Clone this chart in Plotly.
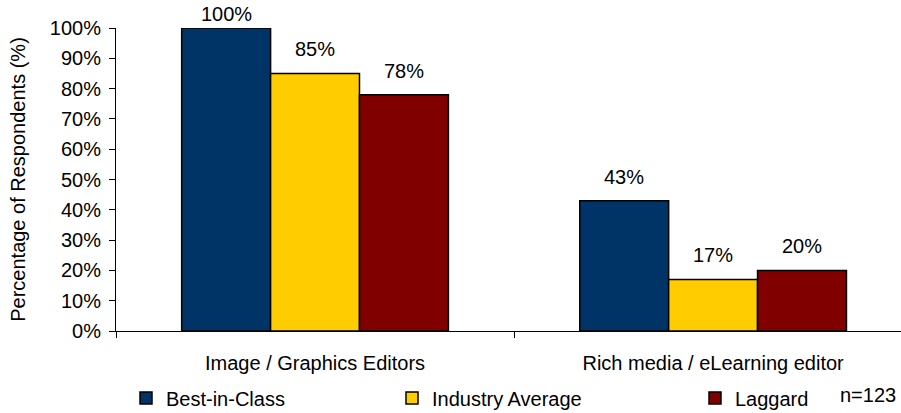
import plotly.graph_objects as go

categories = ["Image / Graphics Editors", "Rich media / eLearning editor"]
series_names = ["Best-in-Class", "Industry Average", "Laggard"]
best_in_class = [1.00, 0.43]
industry_average = [0.85, 0.17]
laggard = [0.78, 0.20]
series_values = [best_in_class, industry_average, laggard]
series_colors = ["#003366", "#FFCC00", "#800000"]
legend_ids = ["legend", "legend2", "legend3"]

FONT = "Liberation Sans, Arial, sans-serif"
FS = 20

W, H = 901, 413
L, T, B = 116, 28, 82
PLOT_H = H - T - B
BARGAP = 0.33
N_SERIES = len(series_names)
BAR_W = (1 - BARGAP) / N_SERIES

fig = go.Figure()
annotations = []
for s, (name, vals, color, lg) in enumerate(zip(series_names, series_values, series_colors, legend_ids)):
    fig.add_trace(go.Bar(
        name=name,
        x=categories,
        y=vals,
        marker=dict(color=color, line=dict(color="#000000", width=1.5)),
        legend=lg,
    ))
    # value labels floating above each bar, kept inside the figure at the top
    for c, v in enumerate(vals):
        shift = min(24, (1 - v) * PLOT_H + 14)
        annotations.append(dict(
            x=c + (s - (N_SERIES - 1) / 2) * BAR_W, y=v,
            xref="x", yref="y",
            text=f"{v:.0%}", showarrow=False,
            xanchor="center", yanchor="middle", yshift=shift,
            font=dict(size=FS, family=FONT, color="#000000"),
        ))

annotations.append(dict(
    text="n=123", xref="paper", yref="paper",
    x=(868 - L) / (W - L), y=(H - B - 395) / PLOT_H,
    xanchor="center", yanchor="middle", showarrow=False,
    font=dict(size=FS, family=FONT, color="#000000"),
))


def legend_box(px_left):
    return dict(
        orientation="h",
        xref="container", yref="container",
        x=px_left / W, xanchor="left",
        y=1 - 398 / H, yanchor="middle",
        font=dict(size=FS, color="#000000", family=FONT),
        bgcolor="rgba(0,0,0,0)",
        itemwidth=30,
    )


fig.update_layout(
    width=W, height=H,
    margin=dict(l=L, r=0, t=T, b=B, autoexpand=False),
    paper_bgcolor="#FFFFFF",
    plot_bgcolor="#FFFFFF",
    font=dict(family=FONT, size=FS, color="#000000"),
    barmode="group",
    bargap=BARGAP,
    bargroupgap=0,
    showlegend=True,
    legend=legend_box(126),
    legend2=legend_box(392),
    legend3=legend_box(695),
    xaxis=dict(
        type="category",
        range=[-0.5, 1.472],
        showline=True, linecolor="#000000", linewidth=1,
        ticks="outside", tickson="boundaries", ticklen=6, tickcolor="#000000",
        showgrid=False, zeroline=False,
        tickfont=dict(size=FS, family=FONT, color="#000000"),
        ticklabelstandoff=14,
    ),
    yaxis=dict(
        range=[0, 1],
        tickformat=".0%", dtick=0.1, tick0=0,
        showline=True, linecolor="#000000", linewidth=1,
        ticks="outside", ticklen=6, tickcolor="#000000",
        showgrid=False, zeroline=False,
        tickfont=dict(size=FS, family=FONT, color="#000000"),
        ticklabelstandoff=4,
        title=dict(text="Percentage of Respondents (%)",
                   font=dict(size=FS, family=FONT, color="#000000"),
                   standoff=18),
    ),
    annotations=annotations,
)

fig.write_html("out.html")
